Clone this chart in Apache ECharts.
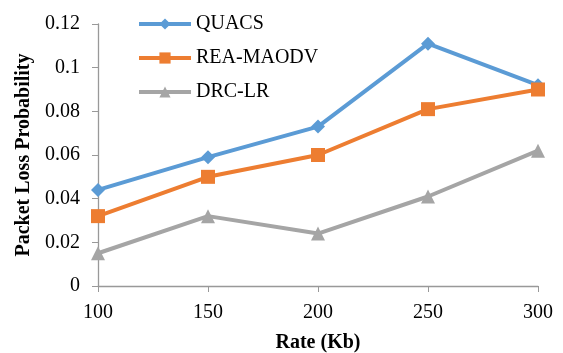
<!DOCTYPE html>
<html><head><meta charset="utf-8">
<script src="https://cdn.jsdelivr.net/npm/echarts@6/dist/echarts.min.js"></script>
<style>html,body{margin:0;padding:0;background:#fff}#c{width:563px;height:353px}</style>
</head><body><div id="c"></div>
<script>
const categories = ['100','150','200','250','300'];
const quacs = [0.044, 0.059, 0.073, 0.111, 0.092];
const reaMaodv = [0.032, 0.050, 0.060, 0.081, 0.090];
const drcLr = [0.015, 0.032, 0.024, 0.041, 0.062];
const yTicks = [0, 0.02, 0.04, 0.06, 0.08, 0.1, 0.12];

const font = 'Liberation Serif, Times New Roman, serif';
const chart = echarts.init(document.getElementById('c'));
chart.setOption({
  animation: false,
  grid: {left: 98, right: 25, top: 24, bottom: 67, containLabel: false, outerBoundsMode: 'none'},
  legend: {
    orient: 'vertical', left: 132, top: 9, itemWidth: 52, itemHeight: 14, itemGap: 14,
    lineStyle: {width: 4},
    textStyle: {fontFamily: font, fontSize: 20, color: '#000'},
    data: ['QUACS','REA-MAODV','DRC-LR']
  },
  xAxis: {
    type: 'category', data: categories, boundaryGap: false,
    name: 'Rate (Kb)', nameLocation: 'middle', nameGap: 47,
    nameTextStyle: {fontFamily: font, fontSize: 20, fontWeight: 'bold', color: '#000'},
    axisLine: {lineStyle: {color: '#999', width: 1.3}},
    axisTick: {show: true, length: 6, inside: false, alignWithLabel: true, lineStyle: {color: '#999'}},
    axisLabel: {fontFamily: font, fontSize: 20, color: '#000', margin: 17},
    splitLine: {show: false}
  },
  yAxis: {
    type: 'value', min: 0, max: 0.12, interval: 0.02,
    name: 'Packet Loss Probability', nameLocation: 'middle', nameGap: 60,
    nameTextStyle: {fontFamily: font, fontSize: 20, fontWeight: 'bold', color: '#000'},
    axisLine: {show: true, lineStyle: {color: '#999', width: 1.3}},
    axisTick: {show: true, length: 6, lineStyle: {color: '#999'}},
    axisLabel: {fontFamily: font, fontSize: 20, color: '#000', margin: 18,
      formatter: v => { const t = yTicks.find(x => Math.abs(x - v) < 1e-9); return String(t !== undefined ? t : v); }},
    splitLine: {show: false}
  },
  series: [
    {name: 'QUACS', type: 'line', data: quacs, symbol: 'diamond', symbolSize: 14,
     lineStyle: {width: 4, color: '#5B9BD5'}, itemStyle: {color: '#5B9BD5'}},
    {name: 'REA-MAODV', type: 'line', data: reaMaodv, symbol: 'rect', symbolSize: 14,
     lineStyle: {width: 4, color: '#ED7D31'}, itemStyle: {color: '#ED7D31'}},
    {name: 'DRC-LR', type: 'line', data: drcLr, symbol: 'triangle', symbolSize: 14,
     lineStyle: {width: 4, color: '#A5A5A5'}, itemStyle: {color: '#A5A5A5'}}
  ]
});
</script></body></html>
